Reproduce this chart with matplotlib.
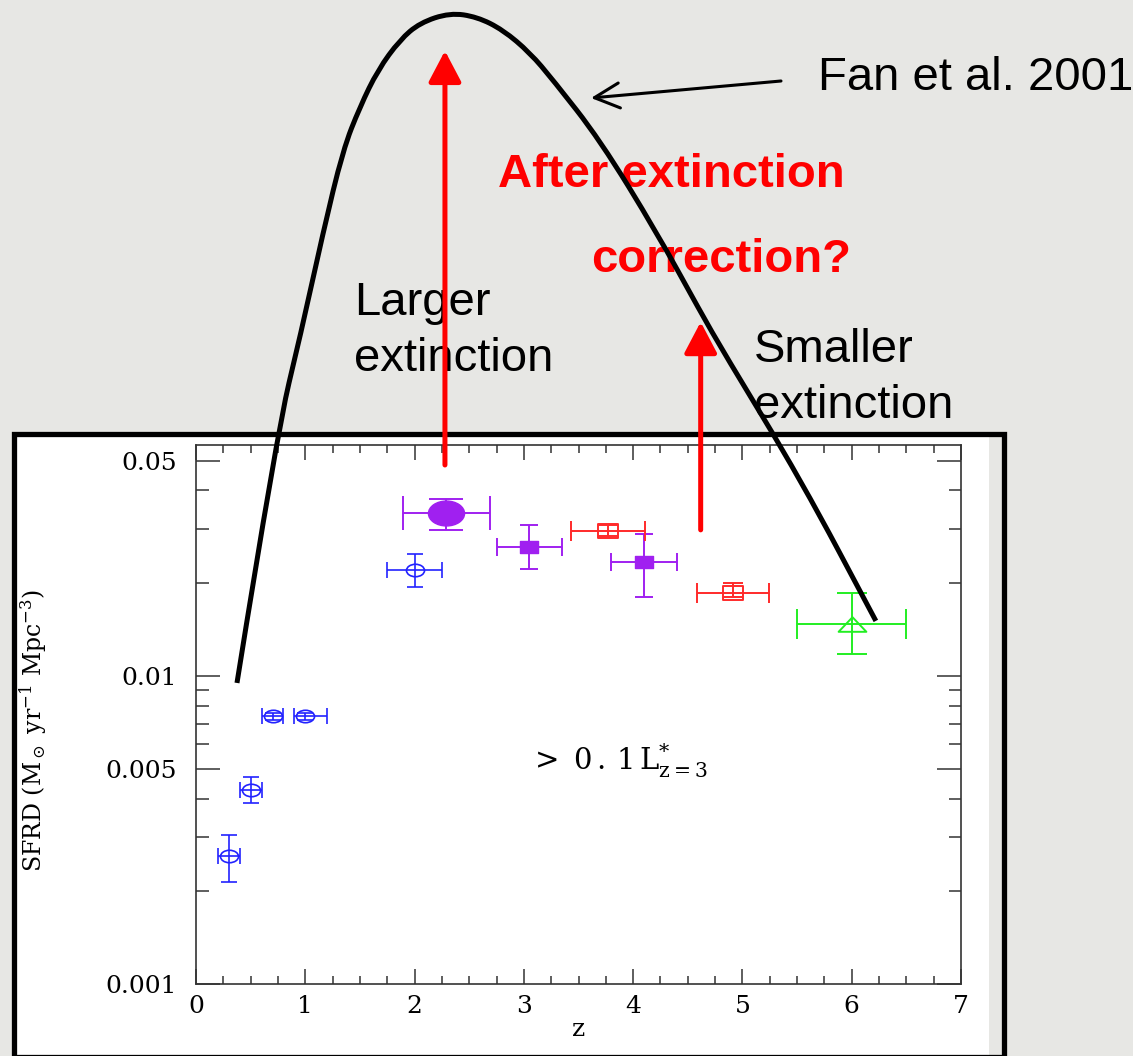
import numpy as np
import matplotlib.pyplot as plt
from matplotlib.path import Path
from matplotlib.patches import Rectangle, PathPatch
from matplotlib.ticker import MultipleLocator, LogLocator, NullFormatter

plt.rcParams['mathtext.fontset'] = 'dejavuserif'

# ---- data ----
# blue open circles
blue_z = [0.3, 0.5, 0.7, 1.0, 2.0]
blue_sfrd = [0.0026, 0.00426, 0.0074, 0.0074, 0.022]
blue_ylo = [0.00046, 0.00039, 0.0002, 0.0002, 0.0025]
blue_yhi = [0.00045, 0.00044, 0.0002, 0.0002, 0.0029]
blue_xlo = [0.1, 0.1, 0.1, 0.1, 0.25]
blue_xhi = [0.1, 0.1, 0.1, 0.2, 0.25]

# purple filled circle
pc_z = [2.29]
pc_sfrd = [0.0337]
pc_yerr = [0.0039]
pc_xerr = [0.4]

# purple filled squares
ps_z = [3.05, 4.10]
ps_sfrd = [0.0262, 0.0234]
ps_ylo = [0.0039, 0.0054]
ps_yhi = [0.0046, 0.0054]
ps_xerr = [0.3, 0.3]

# red open squares
rs_z = [3.77, 4.91]
rs_sfrd = [0.0296, 0.0186]
rs_ylo = [0.0012, 0.0005]
rs_yhi = [0.0012, 0.0015]
rs_xerr = [0.34, 0.33]

# green open triangle
g_z = [6.0]
g_sfrd = [0.01475]
g_ylo = [0.00295]
g_yhi = [0.00385]
g_xerr = [0.5]

# Fan et al. 2001 curve (hand drawn over the plot)
fan_z = [0.375, 0.741, 0.961, 1.162, 1.345, 1.500, 1.665, 1.866, 2.049, 2.324,
         2.571, 2.809, 3.056, 3.266, 3.696, 4.218, 4.611, 4.831, 5.535, 6.221]
fan_sfrd = [0.00949, 0.0615, 0.130, 0.2744, 0.5103, 0.7036, 0.928, 1.161, 1.319, 1.421,
            1.379, 1.251, 1.054, 0.8612, 0.5498, 0.2744, 0.1532, 0.1119, 0.0433, 0.01509]

yticks = [0.001, 0.005, 0.01, 0.05]
ytick_labels = ['0.001', '0.005', '0.01', '0.05']

W, H = 1133, 1056


def fx(px):
    return px / W


def fy(py):
    return 1 - py / H


# stretched markers (the original plot is squashed vertically)
circ = Path.unit_circle()
ell = Path(circ.vertices * [1.45, 1.0], circ.codes)
rect = Path([(-1.45, -1), (1.45, -1), (1.45, 1), (-1.45, 1), (-1.45, -1)],
            [Path.MOVETO, Path.LINETO, Path.LINETO, Path.LINETO, Path.CLOSEPOLY])
tri = Path([(-1.9, -1), (1.9, -1), (0, 1), (-1.9, -1)],
           [Path.MOVETO, Path.LINETO, Path.LINETO, Path.CLOSEPOLY])

fig = plt.figure(figsize=(W / 100, H / 100), dpi=100, facecolor='#e7e7e4')

# white pasted plot + black frame
fig.add_artist(Rectangle((fx(16), fy(1056)), fx(989) - fx(16), fy(437) - fy(1056),
                         transform=fig.transFigure, facecolor='white', edgecolor='none', zorder=-2))
fig.add_artist(Rectangle((fx(13.5), fy(1057)), fx(1004.5) - fx(13.5), fy(434) - fy(1057),
                         transform=fig.transFigure, facecolor='none', edgecolor='black',
                         lw=3.8, zorder=-1))

ax = fig.add_axes([fx(196), fy(984), (961 - 196) / W, (984 - 445) / H])
ax.set_zorder(0)

ax.set_xlim(0, 7)
ax.set_yscale('log')
ax.set_ylim(0.001, 0.0562)

serif = 'DejaVu Serif'
ax.xaxis.set_major_locator(MultipleLocator(1))
ax.xaxis.set_minor_locator(MultipleLocator(0.25))
ax.set_yticks(yticks)
ax.set_yticklabels(ytick_labels)
ax.yaxis.set_minor_locator(LogLocator(base=10, subs=np.arange(2, 10)))
ax.yaxis.set_minor_formatter(NullFormatter())

ax.tick_params(which='both', direction='in', top=True, right=True, color='#333333', width=1.1)
ax.tick_params(axis='x', which='major', length=11, pad=8)
ax.tick_params(axis='x', which='minor', length=6)
ax.tick_params(axis='y', which='major', length=17, pad=14)
ax.tick_params(axis='y', which='minor', length=9)
for lab in ax.get_xticklabels() + ax.get_yticklabels():
    lab.set_fontfamily(serif)
    lab.set_fontsize(18)
for sp in ax.spines.values():
    sp.set_color('#333333')
    sp.set_linewidth(1.2)

ax.set_xlabel('z', fontfamily=serif, fontsize=18, labelpad=0)
ax.set_ylabel(r'SFRD (M$_\odot$ yr$^{-1}$ Mpc$^{-3}$)', fontfamily=serif, fontsize=17)
ax.yaxis.set_label_coords(-0.192, 0.47)

# data points
ax.errorbar(blue_z, blue_sfrd, xerr=[blue_xlo, blue_xhi], yerr=[blue_ylo, blue_yhi],
            ls='none', marker=ell, ms=13, mfc='none', mec='#2222ff', mew=1.2,
            ecolor='#2222ff', elinewidth=1.2, capsize=6, capthick=1.2)
ax.errorbar(pc_z, pc_sfrd, xerr=pc_xerr, yerr=pc_yerr,
            ls='none', marker=ell, ms=26, mfc='#a020f0', mec='#a020f0',
            ecolor='#a020f0', elinewidth=1.4, capsize=12, capthick=1.4)
ax.errorbar(ps_z, ps_sfrd, xerr=ps_xerr, yerr=[ps_ylo, ps_yhi],
            ls='none', marker=rect, ms=13, mfc='#a020f0', mec='#a020f0',
            ecolor='#a020f0', elinewidth=1.4, capsize=6.5, capthick=1.4)
ax.errorbar(rs_z, rs_sfrd, xerr=rs_xerr, yerr=[rs_ylo, rs_yhi],
            ls='none', marker=rect, ms=14, mfc='none', mec='#ff2a2a', mew=1.4,
            ecolor='#ff2a2a', elinewidth=1.4, capsize=7, capthick=1.4)
ax.errorbar(g_z, g_sfrd, xerr=g_xerr, yerr=[g_ylo, g_yhi],
            ls='none', marker=tri, ms=20, mfc='none', mec='#22ee22', mew=1.4,
            ecolor='#22ee22', elinewidth=1.4, capsize=11, capthick=1.4)

ax.text(3.05, 0.00495, r'$>\ 0\,.\,1\,\mathrm{L}^{*}_{\mathrm{z=3}}$', fontsize=21, va='baseline')

# slide annotations
sans = 'Liberation Sans'
ax.text(fx(818), fy(90), 'Fan et al. 2001', transform=fig.transFigure, fontfamily=sans,
        fontsize=34, va='baseline', zorder=4)
ax.text(fx(498), fy(187), 'After extinction', transform=fig.transFigure, fontfamily=sans,
        fontsize=34, fontweight='bold', color='#ff0000', va='baseline', zorder=4)
ax.text(fx(591), fy(272), 'correction?', transform=fig.transFigure, fontfamily=sans,
        fontsize=34, fontweight='bold', color='#ff0000', va='baseline', zorder=4)
ax.text(fx(354), fy(315), 'Larger', transform=fig.transFigure, fontfamily=sans,
        fontsize=34, va='baseline', zorder=4)
ax.text(fx(354), fy(371), 'extinction', transform=fig.transFigure, fontfamily=sans,
        fontsize=34, va='baseline', zorder=4)
ax.text(fx(754), fy(362), 'Smaller', transform=fig.transFigure, fontfamily=sans,
        fontsize=34, va='baseline', zorder=4)
ax.text(fx(754), fy(418), 'extinction', transform=fig.transFigure, fontfamily=sans,
        fontsize=34, va='baseline', zorder=4)

# smooth the traced curve: quadratic Bezier through the midpoints (log space in y)
verts = [(fan_z[0], fan_sfrd[0])]
codes = [Path.MOVETO]
for i in range(1, len(fan_z) - 1):
    verts.append((fan_z[i], fan_sfrd[i]))
    verts.append(((fan_z[i] + fan_z[i + 1]) / 2, np.sqrt(fan_sfrd[i] * fan_sfrd[i + 1])))
    codes += [Path.CURVE3, Path.CURVE3]
verts.append((fan_z[-1], fan_sfrd[-1]))
codes.append(Path.LINETO)
fan = PathPatch(Path(verts, codes), transform=ax.transData, fill=False,
                edgecolor='black', lw=3.6, clip_on=False, zorder=6, capstyle='butt')
ax.add_patch(fan)

red_arrow = dict(arrowstyle='-|>,head_length=0.95,head_width=0.5', color='#ff0000',
                 lw=3.6, mutation_scale=20, shrinkA=0, shrinkB=0)
ax.annotate('', xy=(2.278, 1.07), xytext=(2.278, 0.0484), arrowprops=red_arrow,
            annotation_clip=False, zorder=7)
ax.annotate('', xy=(4.618, 0.141), xytext=(4.618, 0.0298), arrowprops=red_arrow,
            annotation_clip=False, zorder=7)
ax.annotate('', xy=(fx(591), fy(98)), xytext=(fx(781), fy(81)),
            xycoords='figure fraction', textcoords='figure fraction',
            arrowprops=dict(arrowstyle='->,head_length=0.6,head_width=0.3', color='black',
                            lw=2.2, mutation_scale=30, shrinkA=0, shrinkB=0),
            annotation_clip=False, zorder=7)

fig.savefig('out.png', dpi=100, facecolor=fig.get_facecolor())
